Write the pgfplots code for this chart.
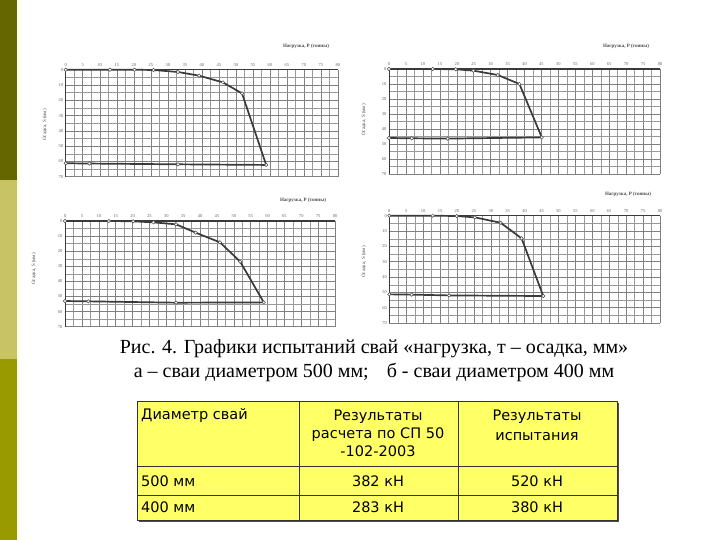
\documentclass[border=0pt]{standalone}
\usepackage{fontspec}
\setmainfont{Liberation Serif}
\newfontfamily\tabfont{DejaVu Sans}
\usepackage{pgfplots}
\pgfplotsset{compat=1.18}
\definecolor{darkolive}{HTML}{666600}
\definecolor{khaki}{HTML}{C8C466}
\definecolor{olive2}{HTML}{999900}
\definecolor{tabyellow}{HTML}{FFFF66}
\definecolor{curve}{HTML}{3A3A3A}
\pgfplotsset{
  pile/.style={
    scale only axis, anchor=center,
    xmin=0, xmax=80, ymin=0, ymax=70, y dir=reverse,
    xtick={0,5,...,80}, ytick={0,10,...,70},
    minor x tick num=1, minor y tick num=1,
    grid=both,
    major grid style={black!50, line width=0.45pt},
    minor grid style={black!40, line width=0.35pt},
    axis line style={draw=none},
    tick style={draw=none},
    xticklabel pos=right,
    /pgf/number format/assume math mode=true,
    ticklabel style={font=\fontsize{4.5}{5}\selectfont, text=black!60},
    xticklabel style={yshift=0pt},
    yticklabel style={xshift=1pt},
    clip=false,
  },
  crv/.style={curve, line width=1.7pt, mark=*, mark size=1.7pt,
    mark options={fill=white, draw=black!70, line width=0.5pt}},
}
\newcommand{\axlines}{%
  \draw[curve, line width=1.2pt] (axis cs:0,0) -- (axis cs:80,0);
  \draw[curve, line width=1.0pt] (axis cs:0,0) -- (axis cs:0,70);}
\begin{document}
\begin{tikzpicture}
\useasboundingbox (0,0) rectangle (720pt,-540pt);
\fill[white] (0,0) rectangle (720pt,-540pt);
\fill[darkolive] (0,0) rectangle (17pt,-180pt);
\fill[khaki] (0,-180pt) rectangle (17pt,-359pt);
\fill[olive2] (0,-359pt) rectangle (17pt,-540pt);
\fill[yellow!8] (17pt,0) rectangle (20pt,-540pt);

% plot a (top-left)
\begin{axis}[pile, at={(201.85pt,-123.2pt)}, width=272.3pt, height=107pt]
\axlines
\addplot[crv] coordinates {(0,0)(13,0)(20.2,0)(25.8,0.2)(33,1.5)(39.2,3.9)(46.2,8.3)(51.8,15.5)(58.9,62.3)(33,61.9)(7,61.4)(0,61.2)};
\end{axis}
% plot b (top-right)
\begin{axis}[pile, at={(524.5pt,-121.5pt)}, width=271pt, height=105pt]
\axlines
\addplot[crv] coordinates {(0,0)(12.9,0)(19.7,0.2)(24.9,1.1)(32.1,4)(38.5,10)(45.1,45.6)(17.3,46.4)(6.7,46.2)(0,46)};
\end{axis}
% plot a (bottom-left)
\begin{axis}[pile, at={(200pt,-273.85pt)}, width=270pt, height=105.7pt]
\axlines
\addplot[crv] coordinates {(0,0)(13,0)(20.2,0.2)(26.2,0.9)(32.9,2.2)(38.7,7.7)(45.9,14.1)(51.9,26.9)(58.9,53.9)(32.9,54.1)(6.9,53.2)(0,53)};
\end{axis}
% plot b (bottom-right)
\begin{axis}[pile, at={(524.65pt,-269.35pt)}, width=270.7pt, height=107.3pt]
\axlines
\addplot[crv] coordinates {(0,0)(12.8,0)(19.9,0.2)(25.3,1.1)(32.9,4.6)(39.1,14.8)(45.5,52.4)(17.7,52)(6.6,51.5)(0,51.3)};
\end{axis}

% axis titles
\tikzset{xl/.style={font=\bfseries\fontsize{5}{6}\selectfont, text=black!70},
         yl/.style={font=\fontsize{5}{6}\selectfont, text=black!70, rotate=90}}
\node[xl] at (306pt,-46pt) {Нагрузка, P (тонны)};
\node[xl] at (626pt,-46pt) {Нагрузка, P (тонны)};
\node[xl] at (303pt,-200pt) {Нагрузка, P (тонны)};
\node[xl] at (628pt,-194pt) {Нагрузка, P (тонны)};
\node[yl] at (45pt,-125pt) {Осадка, S (мм)};
\node[yl] at (364pt,-120pt) {Осадка, S (мм)};
\node[yl] at (34pt,-269pt) {Осадка, S (мм)};
\node[yl] at (364pt,-262pt) {Осадка, S (мм)};

% caption
\node[anchor=base, inner sep=0] at (374pt,-353pt) {\fontsize{20}{24}\selectfont Рис. 4. Графики испытаний свай «нагрузка, т – осадка, мм»};
\node[anchor=base, inner sep=0] at (374pt,-377pt) {\fontsize{20}{24}\selectfont а – сваи диаметром 500 мм;\hspace{18pt}б - сваи диаметром 400 мм};

% table
\fill[black!70] (139pt,-403pt) rectangle (619pt,-522pt);
\fill[tabyellow] (137pt,-401pt) rectangle (617pt,-520pt);
\draw[black!80, line width=0.6pt] (137pt,-401pt) rectangle (617pt,-520pt);
\draw[black!80, line width=0.6pt] (137pt,-466pt) -- (617pt,-466pt);
\draw[black!80, line width=0.6pt] (137pt,-495pt) -- (617pt,-495pt);
\draw[black!80, line width=0.6pt] (299pt,-401pt) -- (299pt,-520pt);
\draw[black!80, line width=0.6pt] (458pt,-401pt) -- (458pt,-520pt);
\tikzset{tt/.style={font=\tabfont\fontsize{14.5}{17}\selectfont, inner sep=0}}
\node[tt, anchor=base west] at (141pt,-419pt) {Диаметр свай};
\node[tt, anchor=base] at (378pt,-420pt) {Результаты};
\node[tt, anchor=base] at (378pt,-438pt) {расчета по СП 50};
\node[tt, anchor=base] at (378pt,-456pt) {-102-2003};
\node[tt, anchor=base] at (537pt,-420pt) {Результаты};
\node[tt, anchor=base] at (537pt,-440pt) {испытания};
\node[tt, anchor=base west] at (141pt,-486pt) {500 мм};
\node[tt, anchor=base] at (378pt,-486pt) {382 кН};
\node[tt, anchor=base] at (537pt,-486pt) {520 кН};
\node[tt, anchor=base west] at (141pt,-512pt) {400 мм};
\node[tt, anchor=base] at (378pt,-512pt) {283 кН};
\node[tt, anchor=base] at (537pt,-512pt) {380 кН};
\end{tikzpicture}
\end{document}
